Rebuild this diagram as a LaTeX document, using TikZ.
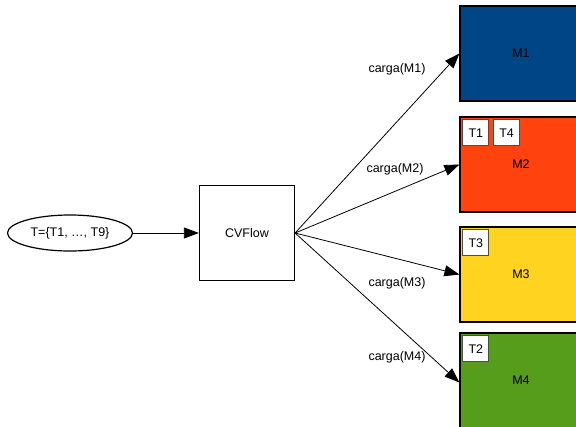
\documentclass[tikz,border=0pt]{standalone}
\usepackage{fontspec}
\setmainfont{Liberation Sans}
\usepackage{tikz}
\usetikzlibrary{shapes.geometric, arrows.meta, positioning}
\definecolor{loazul}{RGB}{0,69,134}
\definecolor{lolaranja}{RGB}{255,66,14}
\definecolor{loamarelo}{RGB}{255,211,32}
\definecolor{loverde}{RGB}{87,157,28}

\tikzset{
  tarefas/.style={draw, ellipse, line width=1.2pt, minimum width=125pt, minimum height=36pt, inner sep=0pt},
  bloco/.style={draw, rectangle, line width=1.2pt, minimum width=95pt, minimum height=95pt},
  maquina/.style={draw, rectangle, line width=1.2pt, minimum width=122pt, minimum height=95pt, fill=#1},
  ficha/.style={draw=black!70, fill=white, line width=0.8pt, minimum width=26pt, minimum height=26pt, inner sep=0pt},
  etiqueta/.style={inner sep=1pt},
  flecha/.style={-{Triangle[length=15pt, width=11pt]}, line width=0.8pt}
}

\begin{document}
\begin{tikzpicture}[x=1pt, y=-1pt, font=\fontsize{12.5}{15}\selectfont]
  \clip (0,0) rectangle (576,426);
  \fill[white] (0,0) rectangle (576,426);

  % entrada e escalonador
  \node[tarefas] (tarefas) at (70,233) {T=\{T1, …, T9\}};
  \node[bloco] (cvflow) at (247,233) {CVFlow};

  % maquinas
  \node[maquina=loazul] (m1) at (521,53.5) {M1};
  \node[maquina=lolaranja] (m2) at (521,164.5) {M2};
  \node[maquina=loamarelo] (m3) at (521,274.5) {M3};
  \node[maquina=loverde] (m4) at (521,380.5) {M4};

  % tarefas atribuidas
  \node[ficha, below right=3pt and 3pt of m2.north west] (t1) {T1};
  \node[ficha, right=4pt of t1] (t4) {T4};
  \node[ficha, below right=3pt and 3pt of m3.north west] (t3) {T3};
  \node[ficha, below right=3pt and 3pt of m4.north west] (t2) {T2};

  % ligacoes
  \draw[flecha] (tarefas.east) -- (cvflow.west);
  \draw[flecha] (cvflow.east) -- (m1.west);
  \draw[flecha] (cvflow.east) -- (m2.west);
  \draw[flecha] (cvflow.east) -- (m3.west);
  \draw[flecha] (cvflow.east) -- ([yshift=-2pt]m4.west);

  % cargas
  \node[etiqueta] (c1) at (397,69) {carga(M1)};
  \node[etiqueta] (c2) at (395,169) {carga(M2)};
  \node[etiqueta] (c3) at (397,283) {carga(M3)};
  \node[etiqueta] (c4) at (397,357) {carga(M4)};
\end{tikzpicture}
\end{document}
